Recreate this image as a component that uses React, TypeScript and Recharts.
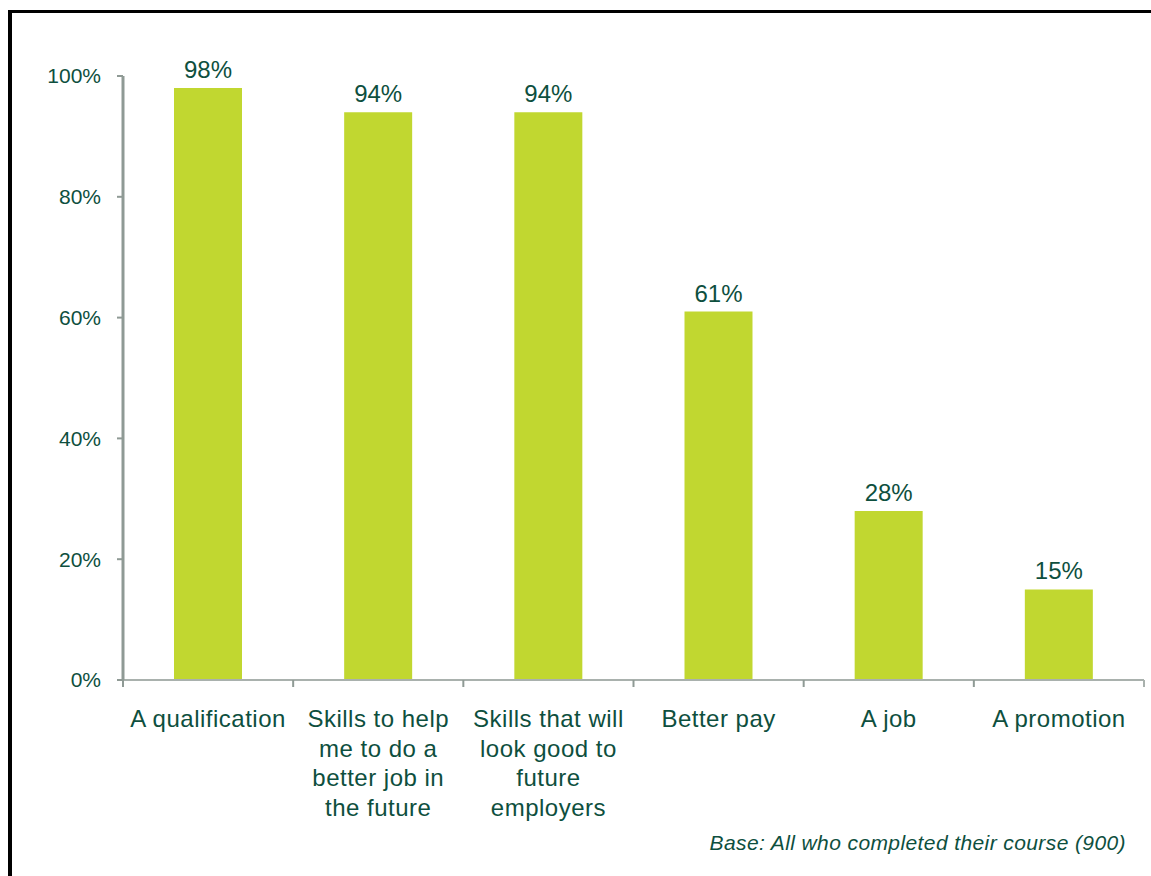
import { BarChart, Bar, XAxis, YAxis, LabelList } from 'recharts'

const CATEGORIES = [
  'A qualification',
  'Skills to help\nme to do a\nbetter job in\nthe future',
  'Skills that will\nlook good to\nfuture\nemployers',
  'Better pay',
  'A job',
  'A promotion',
]
const VALUES = [98, 94, 94, 61, 28, 15]
const Y_TICKS = [0, 20, 40, 60, 80, 100]
const BASE_NOTE = 'Base: All who completed their course (900)'

const WIDTH = 1151
const HEIGHT = 876
const MARGIN = { top: 76, right: 7, bottom: 46, left: 0 }
const Y_AXIS_W = 123
const BAND = (WIDTH - MARGIN.left - MARGIN.right - Y_AXIS_W) / CATEGORIES.length

const TEXT = '#0e4f3e'
const BAR = '#c1d730'
const AXIS = '#8f9a95'
const FONT = '"Liberation Sans", Arial, sans-serif'

const data = CATEGORIES.map((name, i) => ({ name, value: VALUES[i] }))

function CategoryTick(props: any) {
  const { x, y, payload, index } = props
  const lines = String(payload.value).split('\n')
  const half = BAND / 2
  return (
    <g>
      <line x1={x - half} x2={x - half} y1={y - 7} y2={y} stroke={AXIS} strokeWidth={2} />
      {index === CATEGORIES.length - 1 && (
        <line x1={x + half} x2={x + half} y1={y - 7} y2={y} stroke="#a9b1ad" strokeWidth={2} />
      )}
      <text
        x={x}
        y={y + 40}
        textAnchor="middle"
        fill={TEXT}
        fontSize={24}
        fontFamily={FONT}
        letterSpacing={0.5}
      >
        {lines.map((l, i) => (
          <tspan key={i} x={x} dy={i === 0 ? 0 : 29.5}>
            {l}
          </tspan>
        ))}
      </text>
    </g>
  )
}

function ValueLabel(props: any) {
  const { x, y, width, value } = props
  return (
    <text
      x={x + width / 2}
      y={y - 10}
      textAnchor="middle"
      fill={TEXT}
      fontSize={24}
      fontFamily={FONT}
    >
      {value}%
    </text>
  )
}

export default function App() {
  return (
    <div
      style={{
        position: 'fixed',
        top: 0,
        left: 0,
        width: WIDTH,
        height: HEIGHT,
        overflow: 'hidden',
        background: '#fff',
      }}
    >
      <div
        style={{
          position: 'absolute',
          top: 10,
          left: 8,
          width: 1200,
          height: 900,
          borderTop: '3px solid #000',
          borderLeft: '4px solid #000',
        }}
      />
      <div style={{ position: 'absolute', top: 0, left: 0 }}>
        <BarChart width={WIDTH} height={HEIGHT} data={data} margin={MARGIN}>
          <XAxis
            dataKey="name"
            interval={0}
            height={150}
            tickLine={false}
            tickSize={7}
            tickMargin={0}
            axisLine={{ stroke: '#a9b1ad', strokeWidth: 2 }}
            tick={<CategoryTick />}
          />
          <YAxis
            width={Y_AXIS_W}
            domain={[0, 100]}
            ticks={Y_TICKS}
            tickFormatter={(v: number) => `${v}%`}
            tickSize={6}
            tickMargin={16}
            axisLine={{ stroke: AXIS, strokeWidth: 3 }}
            tickLine={{ stroke: AXIS, strokeWidth: 2 }}
            tick={{ fill: TEXT, fontSize: 21, fontFamily: FONT }}
          />
          <Bar dataKey="value" fill={BAR} barSize={68} isAnimationActive={false}>
            <LabelList dataKey="value" content={<ValueLabel />} />
          </Bar>
        </BarChart>
      </div>
      <div
        style={{
          position: 'absolute',
          top: 832,
          right: 25,
          fontFamily: FONT,
          fontStyle: 'italic',
          fontSize: 21,
          lineHeight: '21px',
          letterSpacing: 0.4,
          color: TEXT,
          whiteSpace: 'nowrap',
        }}
      >
        {BASE_NOTE}
      </div>
    </div>
  )
}
